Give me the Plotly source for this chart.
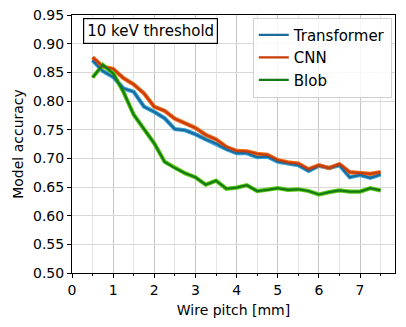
import plotly.graph_objects as go

# ── data ─────────────────────────────────────────────
pitch = [0.5, 0.75, 1.0, 1.25, 1.5, 1.75, 2.0, 2.25, 2.5, 2.75, 3.0,
         3.25, 3.5, 3.75, 4.0, 4.25, 4.5, 4.75, 5.0, 5.25, 5.5,
         5.75, 6.0, 6.25, 6.5, 6.75, 7.0, 7.25, 7.5]

transformer = [0.871, 0.852, 0.842, 0.822, 0.816, 0.790, 0.781, 0.770, 0.751, 0.749, 0.742,
               0.733, 0.726, 0.716, 0.709, 0.709, 0.702, 0.703, 0.694, 0.691, 0.688,
               0.678, 0.687, 0.683, 0.688, 0.667, 0.671, 0.666, 0.672]

cnn = [0.876, 0.860, 0.856, 0.840, 0.829, 0.813, 0.790, 0.783, 0.769, 0.761, 0.753,
       0.741, 0.733, 0.720, 0.713, 0.712, 0.708, 0.706, 0.697, 0.693, 0.691,
       0.681, 0.688, 0.683, 0.690, 0.676, 0.675, 0.673, 0.676]

blob = [0.841, 0.863, 0.848, 0.816, 0.776, 0.752, 0.726, 0.694, 0.683, 0.674, 0.667,
        0.654, 0.661, 0.647, 0.649, 0.653, 0.643, 0.645, 0.648, 0.645, 0.646,
        0.643, 0.637, 0.641, 0.644, 0.642, 0.642, 0.648, 0.644]

x_ticks = [0, 1, 2, 3, 4, 5, 6, 7]
y_ticks = [0.50, 0.55, 0.60, 0.65, 0.70, 0.75, 0.80, 0.85, 0.90, 0.95]

# name, values, core colour, halo colour
SERIES = [
    ("Transformer", transformer, "#1a6a9e", "#3aa6d8"),
    ("CNN",         cnn,         "#c83c08", "#f07020"),
    ("Blob",        blob,        "#157a15", "#5ccc10"),
]

FONT = "DejaVu Sans"

fig = go.Figure()

# halo under each line (no legend)
for name, vals, core, halo in SERIES:
    fig.add_trace(go.Scatter(
        x=pitch, y=vals, mode="lines", showlegend=False, hoverinfo="skip",
        line=dict(color=halo, width=4.2),
    ))

for name, vals, core, halo in SERIES:
    fig.add_trace(go.Scatter(
        x=pitch, y=vals, mode="lines", name=name,
        line=dict(color=core, width=2.2),
    ))

fig.update_layout(
    width=406, height=327,
    margin=dict(l=72, r=11, t=15, b=54),
    paper_bgcolor="white",
    plot_bgcolor="white",
    font=dict(family=FONT, size=14, color="black"),
    showlegend=True,
    legend=dict(
        x=0.99, y=0.99, xanchor="right", yanchor="top",
        bgcolor="rgba(255,255,255,0.85)",
        bordercolor="#d0d0d0", borderwidth=1,
        font=dict(size=15),
        tracegroupgap=0,
    ),
    annotations=[dict(
        text="10 keV threshold", x=0.033, y=0.99, xref="paper", yref="paper",
        xanchor="left", yanchor="top", showarrow=False,
        font=dict(size=15, family=FONT),
        bordercolor="black", borderwidth=1.2, borderpad=3, bgcolor="white",
    )],
)

fig.update_xaxes(
    range=[0, 7.85], tickvals=x_ticks, automargin=False,
    title=dict(text="Wire pitch [mm]", font=dict(size=14), standoff=8),
    tickfont=dict(size=14),
    showline=True, linecolor="black", linewidth=1, mirror=True,
    ticks="outside", ticklen=4, tickcolor="black",
    showgrid=True, gridcolor="#c4c4c4", gridwidth=1,
    zeroline=False,
    minor=dict(dtick=0.5, tick0=0, ticks="outside", ticklen=2, tickcolor="black",
               showgrid=True, gridcolor="#e4e4e4", gridwidth=1),
)
fig.update_yaxes(
    range=[0.5, 0.95], tickvals=y_ticks, tickformat=".2f", automargin=False,
    title=dict(text="Model accuracy", font=dict(size=14), standoff=6),
    tickfont=dict(size=14),
    showline=True, linecolor="black", linewidth=1, mirror=True,
    ticks="outside", ticklen=4, tickcolor="black",
    showgrid=True, gridcolor="#d8d8d8", gridwidth=1,
    zeroline=False,
)

# the page body has a default 8px margin; drop it so the figure sits at 0,0
fig.write_html("out.html", config={"displayModeBar": False},
               post_script="document.body.style.margin='0';")
